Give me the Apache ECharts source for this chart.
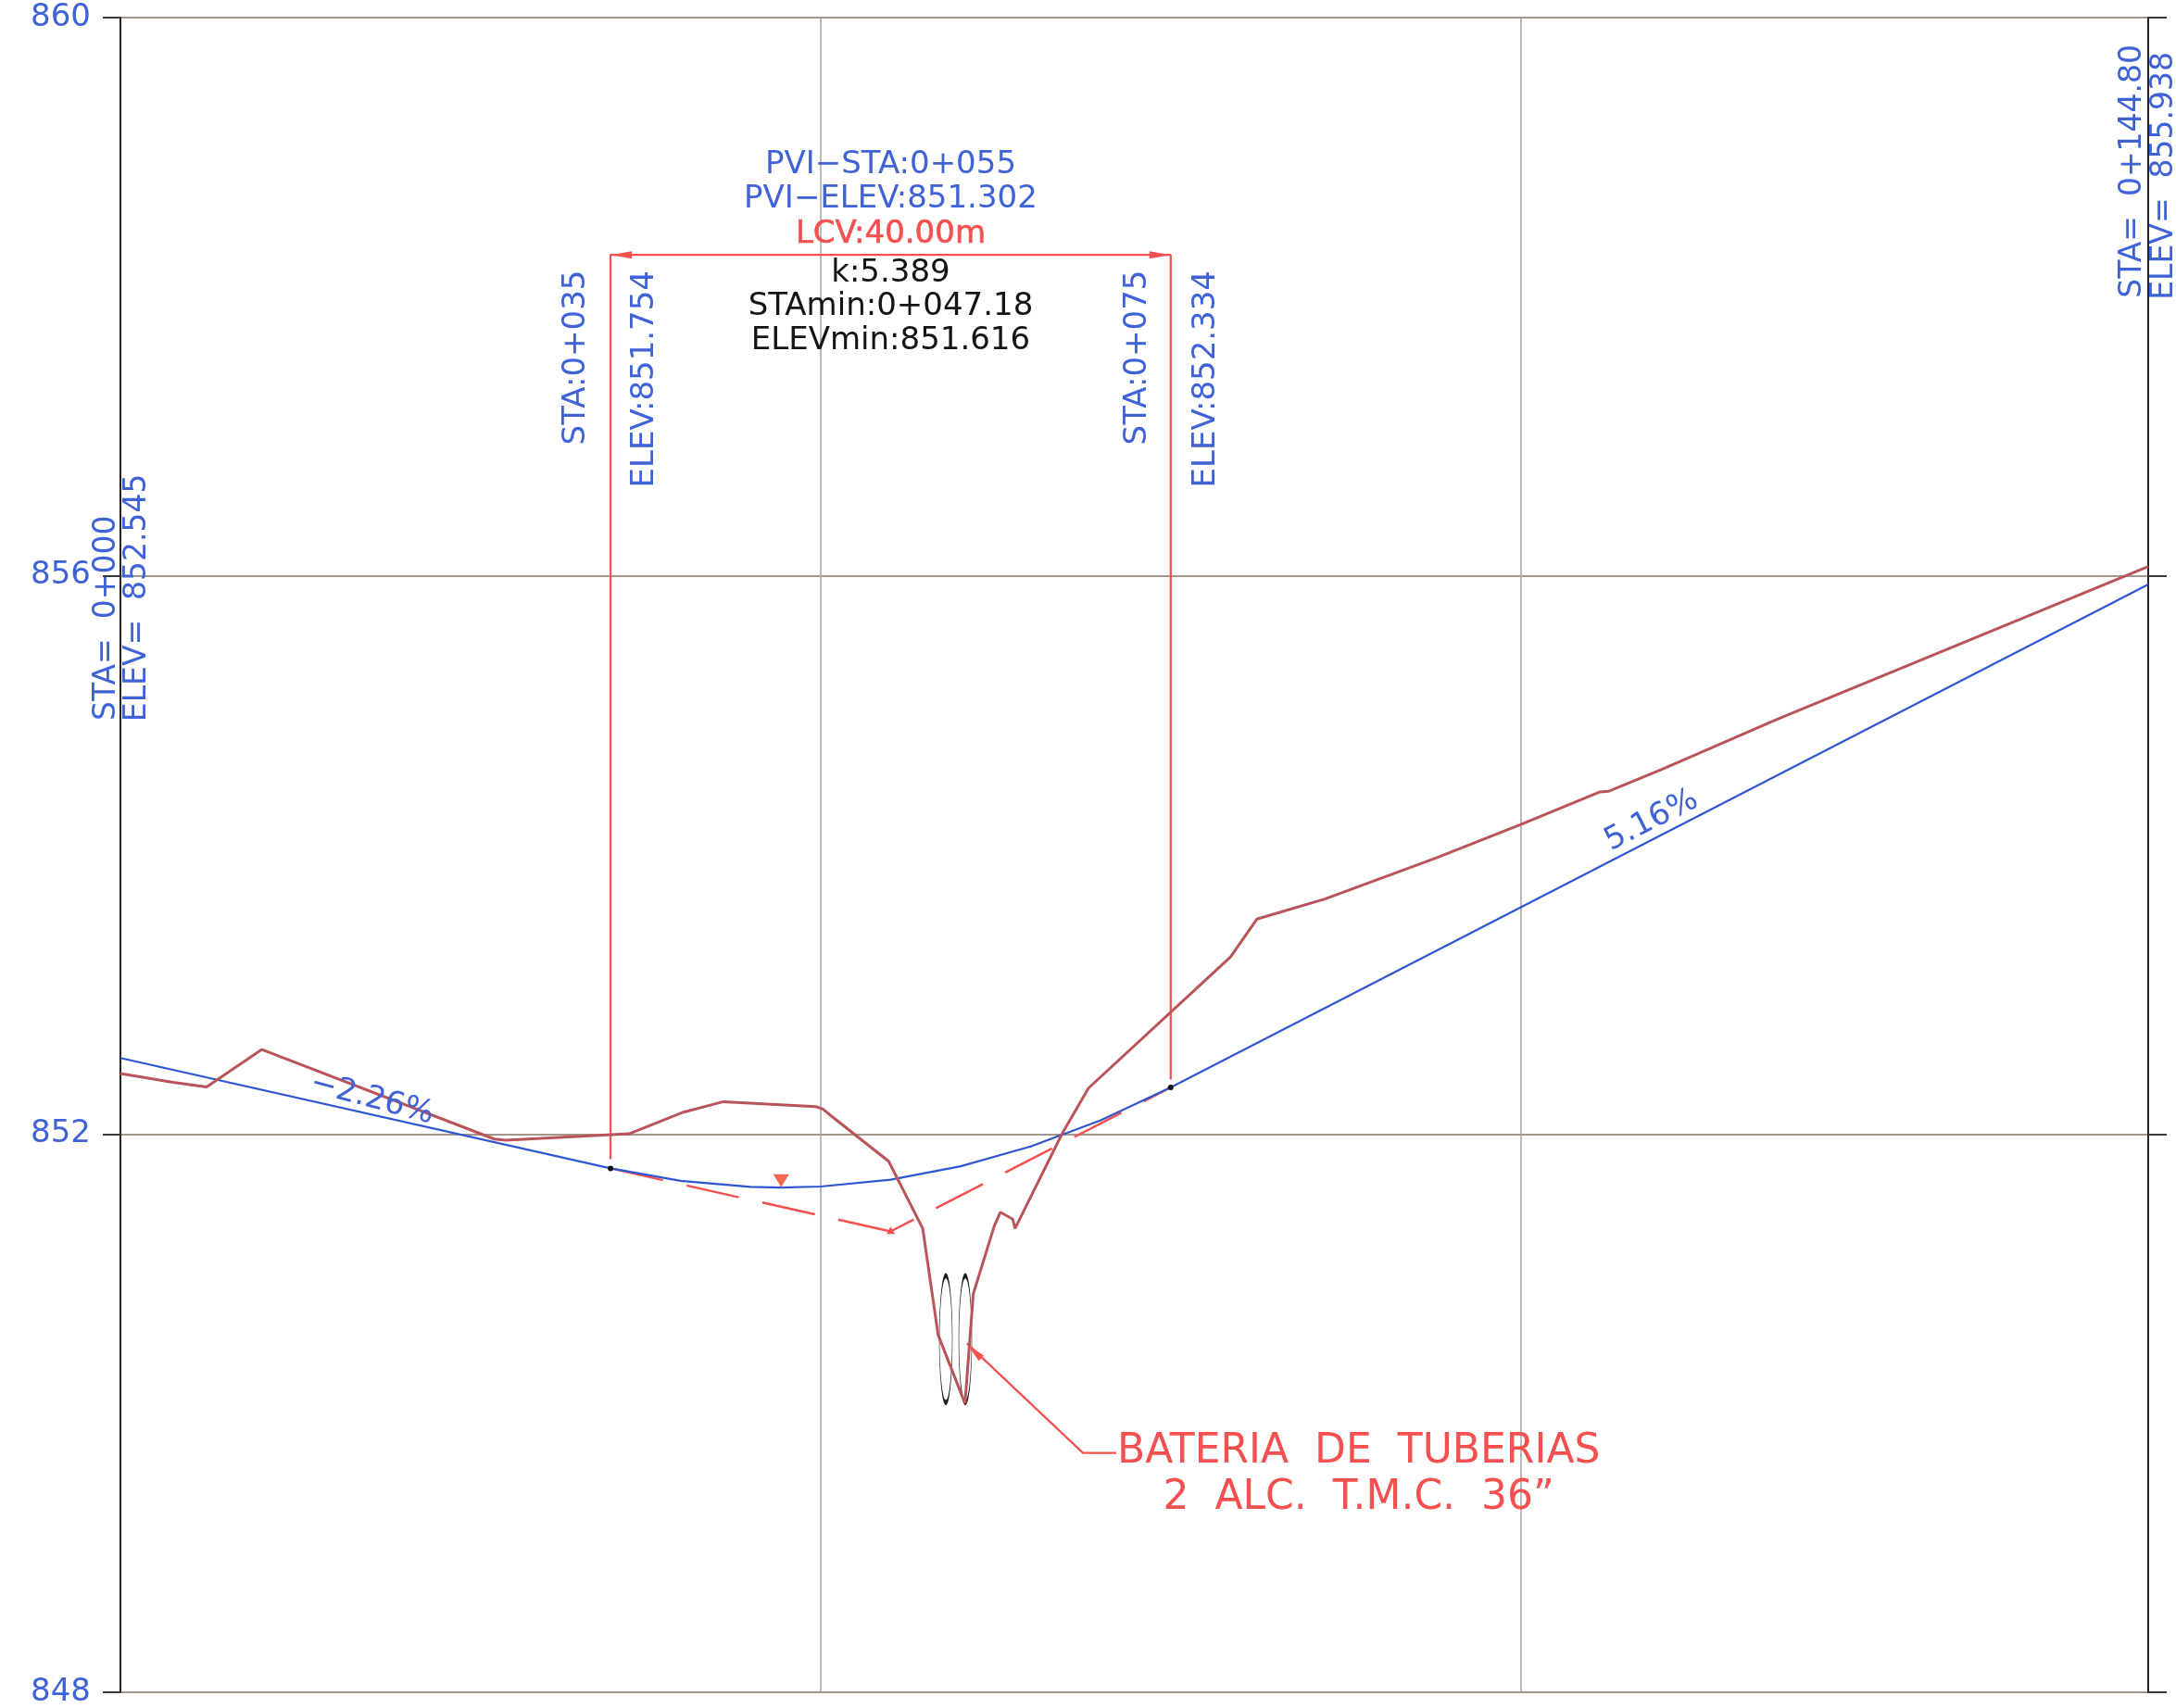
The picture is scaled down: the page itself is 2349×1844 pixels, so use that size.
<!DOCTYPE html>
<html><head><meta charset="utf-8">
<style>html,body{margin:0;padding:0;background:#fff}#c{width:2349px;height:1844px}</style>
<script src="https://cdn.jsdelivr.net/npm/echarts@6/dist/echarts.min.js"></script>
</head><body><div id="c"></div>
<script>
const yTicks = [848, 852, 856, 860];
const groundProfile = [[0,852.433],[3.75,852.371],[6.15,852.338],[10.1,852.606],[26.7,851.964],[27.52,851.956],[36.32,852.002],[40.21,852.157],[43.06,852.232],[49.65,852.196],[50.14,852.181],[50.94,852.115],[54.86,851.805],[57.29,851.323],[58.39,850.561],[60.31,850.07],[60.9,850.855],[62.4,851.341],[62.84,851.44],[63.72,851.39],[63.88,851.323],[67.25,852.004],[69.13,852.329],[79.27,853.269],[81.15,853.54],[86,853.684],[93.93,853.978],[100,854.218],[105.62,854.451],[106.29,854.457],[110.03,854.612],[118.41,854.976],[144.8,856.066]];
const gradeProfile = [[0,852.545],[35,851.754],[40,851.664],[45,851.621],[47.18,851.616],[50,851.624],[55,851.673],[60,851.769],[65,851.911],[70,852.099],[75,852.334],[144.8,855.938]];
const tangentIn = [[35,851.754],[55,851.302]];
const tangentOut = [[55,851.302],[75,852.334]];
const lcvBracket = [[35,851.82],[35,858.30],[75,858.30],[75,852.39]];
const leader = [[60.45,850.5],[68.73,849.715],[71.1,849.715]];
const pipes = [[58.94,850.53],[60.33,850.53]];
const curveEnds = [[35,851.754],[75,852.334]];
const apex = [[55,851.31]];
const lowPoint = [[47.18,851.665]];

const blueNotes = [
  ['PVI\u2212STA:0+055',55,858.944,0],['PVI\u2212ELEV:851.302',55,858.697,0],
  ['STA:0+035',32.58,857.564,90],['ELEV:851.754',37.48,857.41,90],
  ['STA:0+075',72.61,857.564,90],['ELEV:852.334',77.52,857.41,90],
  ['STA=  0+000',-0.97,855.697,90],['ELEV=  852.545',1.19,855.843,90],
  ['STA=  0+144.80',143.71,858.899,90],['ELEV=  855.938',145.93,858.866,90],
  ['\u22122.26%',17.96,852.25,-15],['5.16%',109.33,854.245,27]
];
const blackNotes = [['k:5.389',55,858.167,0],['STAmin:0+047.18',55,857.928,0],['ELEVmin:851.616',55,857.683,0]];
const redNotes = [['BATERIA  DE  TUBERIAS',88.42,849.72,0],['2  ALC.  T.M.C.  36\u201D',88.42,849.39,0]];
const lcvNote = [['LCV:40.00m',55,858.445,0]];

const BLUE='#3f62d6', RED='#f4504f', BROWN='#b9555a', GRID='#a3978c';
const FR='"DejaVu Sans",sans-serif';

function noteSeries(rows, color, size, family, extra){
  return {type:'scatter', clip:false, symbolSize:0, silent:true, z:8, itemStyle:{opacity:1},
    data: rows.map(r=>({value:[r[1],r[2]],
      label:Object.assign({show:true,position:'inside',formatter:r[0],rotate:r[3],color:color,opacity:1,
        fontSize:size,fontFamily:family,align:'center',verticalAlign:'middle'},extra||{})}))};
}
function lineSeries(data,color,width,z,extra){
  return Object.assign({type:'line',data:data,symbol:'none',clip:false,silent:true,z:z,
    lineStyle:{color:color,width:width}},extra||{});
}
function marker(data,symbol,rotate,size,color){
  return {type:'scatter',clip:false,silent:true,z:7,data:data,symbol:symbol,symbolRotate:rotate,symbolSize:size,itemStyle:{color:color,opacity:1}};
}
const option = {
  animation:false, backgroundColor:'#fff',
  grid:{left:130,right:30,top:19,bottom:15,containLabel:false},
  xAxis:{type:'value',min:0,max:144.8,interval:50,axisLine:{show:false},axisTick:{show:false},axisLabel:{show:false},
    splitLine:{show:true,lineStyle:{color:'#a2a2a2',width:1.5}}},
  yAxis:[
    {type:'value',min:848,max:860,interval:4,position:'left',
      axisLine:{show:true,lineStyle:{color:'#2a2220',width:2}},
      axisTick:{show:true,length:19,lineStyle:{color:'#3a3a3a',width:2}},
      axisLabel:{show:true,color:BLUE,fontSize:34,fontFamily:FR,margin:32,customValues:yTicks},
      splitLine:{show:true,lineStyle:{color:GRID,width:2}}},
    {type:'value',min:848,max:860,interval:4,position:'right',
      axisLine:{show:true,lineStyle:{color:'#2a2220',width:2}},
      axisTick:{show:true,length:20,lineStyle:{color:'#3a3a3a',width:2}},
      axisLabel:{show:false},splitLine:{show:false}}
  ],
  series:[
    lineSeries(lcvBracket,RED,2.2,4),
    lineSeries(tangentIn,RED,2.5,4,{lineStyle:{color:RED,width:2.5,type:[58,26]}}),
    lineSeries(tangentOut,RED,2.5,4,{lineStyle:{color:RED,width:2.5,type:[57,27],dashOffset:29}}),
    lineSeries(leader,RED,2.2,4),
    {type:'scatter',clip:false,silent:true,z:3,data:pipes,symbol:'circle',symbolSize:[14,137],
      itemStyle:{color:'rgba(0,0,0,0)',borderColor:'#1c1c1c',borderWidth:1.8,opacity:1}},
    lineSeries(gradeProfile,'#2f56d2',2.2,5),
    lineSeries(groundProfile,BROWN,3,6),
    marker(curveEnds,'circle',0,6,'#111'),
    marker(lowPoint,'triangle',180,[17,14],'#f2694f'),
    marker(apex,'triangle',0,[9,8],RED),
    marker([[35.76,858.30]],'triangle',90,[8,23],RED),
    marker([[74.24,858.30]],'triangle',-90,[8,23],RED),
    marker([[61.0,850.44]],'triangle',46,[8,20],RED),
    noteSeries(blueNotes.slice(0,6),BLUE,34,FR),
    noteSeries(blueNotes.slice(6,10),BLUE,33,FR),
    noteSeries(blueNotes.slice(10),BLUE,34,FR),
    noteSeries(blackNotes,'#141414',34,FR),
    noteSeries(lcvNote,RED,34,FR,{textBorderColor:RED,textBorderWidth:0.6}),
    noteSeries(redNotes,RED,44,FR)
  ]
};
const chart = echarts.init(document.getElementById('c'),null,{renderer:'canvas'});
chart.setOption(option);
</script></body></html>
